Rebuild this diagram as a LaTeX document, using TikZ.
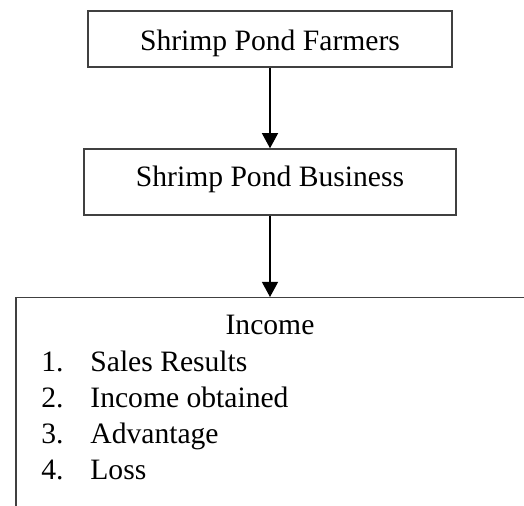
\documentclass[tikz,border=0pt]{standalone}
\usepackage{fontspec}
\setmainfont{Liberation Serif}
\usepackage{tikz}
\usetikzlibrary{positioning, arrows.meta}

\begin{document}
\begin{tikzpicture}[x=0.5pt, y=-0.5pt, >={Triangle[width=8pt,length=7.5pt]},
    font=\fontsize{14.8}{18}\selectfont,
    flowbox/.style={draw=black!75, line width=0.75pt, inner sep=0pt}]
    \useasboundingbox (0,0) rectangle (524,506);
    \clip (0,0) rectangle (524,506);

    \node (farmers) [flowbox, minimum width=182pt, minimum height=28pt] at (270,39) {};
    \node (business) [flowbox, minimum width=186pt, minimum height=33pt] at (270,182) {};
    \node (income) [flowbox, anchor=north west, minimum width=300pt, minimum height=150pt] at (15,297) {};

    \node (farmerstxt) [anchor=base, inner sep=0pt] at (270,51) {Shrimp Pond Farmers};
    \node (businesstxt) [anchor=base, inner sep=0pt] at (270,187) {Shrimp Pond Business};
    \node (title) [anchor=base, inner sep=0pt] at (270,335) {Income};
    \foreach \n/\txt [count=\i] in {372/Sales Results, 408/Income obtained, 444/Advantage, 480/Loss} {
        \node (num\i) [anchor=base west, inner sep=0pt] at (41,\n) {\i.};
        \node (item\i) [anchor=base west, inner sep=0pt] at (90,\n) {\txt};
    }

    \draw[->, line width=0.6pt] (farmers) -- (business);
    \draw[->, line width=0.6pt] (business) -- (income.north -| business);
\end{tikzpicture}
\end{document}
